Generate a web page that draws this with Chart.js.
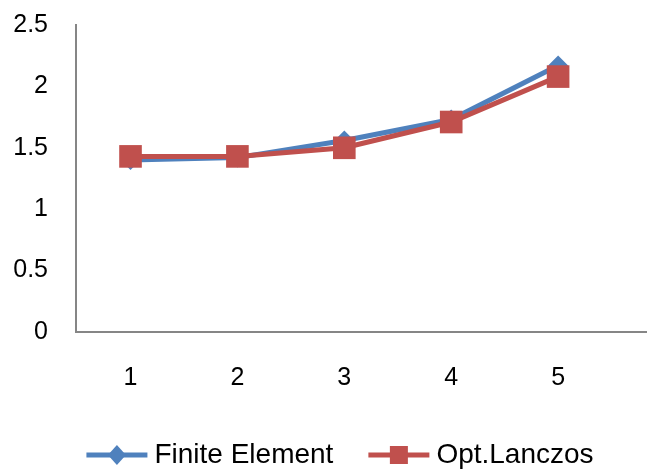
<!DOCTYPE html>
<html>
<head>
<meta charset="utf-8">
<script src="https://cdn.jsdelivr.net/npm/chart.js@4/dist/chart.umd.min.js"></script>
<style>
html,body{margin:0;padding:0;background:#fff;overflow:hidden;}
canvas{display:block;}
</style>
</head>
<body>
<canvas id="grafico" width="681" height="469"></canvas>
<script>

const categorias = [1,2,3,4,5]
const finiteElement = [1.40,1.42,1.56,1.73,2.17]
const optLanczos = [1.43,1.43,1.50,1.71,2.08]
const ticksY = [0,0.5,1,1.5,2,2.5]
const nombres = ["Finite Element","Opt.Lanczos"]

const azul = "#4F81BD"
const rojo = "#C0504D"
const fuente = "Liberation Sans"

/* leyenda abajo: linea + marcador + texto */
function marcador(g, forma, cx, cy){
if(forma == "diamante"){
g.beginPath()
g.moveTo(cx,cy-10)
g.lineTo(cx+9,cy)
g.lineTo(cx,cy+10)
g.lineTo(cx-9,cy)
g.closePath()
g.fill()
}else{
g.fillRect(cx-9,cy-9,18,18)
}
}

const leyenda = {
id:"leyenda",
afterDraw(chart){
const g = chart.ctx
const y = 455
const icono = 61, sep = 7, entre = 35
g.save()
g.font = "28px " + fuente
const formas = ["diamante","cuadrado"]
const anchos = chart.data.datasets.map(ds => icono + sep + g.measureText(ds.label).width)
const total = anchos[0] + entre + anchos[1]
let x = 340 - total/2
chart.data.datasets.forEach((ds,i) => {
g.strokeStyle = ds.borderColor
g.fillStyle = ds.borderColor
g.lineWidth = 5
g.beginPath()
g.moveTo(x,y)
g.lineTo(x+icono,y)
g.stroke()
marcador(g, formas[i], x+icono/2, y)
g.fillStyle = "#000"
g.textBaseline = "middle"
g.textAlign = "left"
g.fillText(ds.label, x+icono+sep, y)
x += anchos[i] + entre
})
g.restore()
}
}

const puntos = serie => categorias.map((c,i) => ({x:c, y:serie[i]}))

new Chart(document.getElementById("grafico"),{
type:"line",
data:{
datasets:[
{
label:nombres[0],
data:puntos(finiteElement),
borderColor:azul,
backgroundColor:azul,
borderWidth:5,
pointStyle:"rectRot",
pointRadius:10,
pointBorderWidth:0,
tension:0,
order:2
},
{
label:nombres[1],
data:puntos(optLanczos),
borderColor:rojo,
backgroundColor:rojo,
borderWidth:5,
pointStyle:"rect",
pointRadius:16,
pointBorderWidth:0,
tension:0,
order:1
}
]
},
options:{
responsive:false,
animation:false,
layout:{padding:{top:25,left:0,right:0,bottom:78}},
plugins:{
tooltip:{enabled:false},
legend:{display:false}
},
scales:{
x:{
type:"linear",
bounds:"data",
min:0.49,
max:6.0,
afterBuildTicks: s => { s.ticks = categorias.map(v => ({value:v})) },
afterFit: s => { s.height = 59; s.paddingLeft = 0; s.paddingRight = 0 },
grid:{display:false,drawTicks:false},
border:{display:true,color:"#868686",width:2},
ticks:{color:"#000",padding:31,font:{family:fuente,size:25},callback: v => String(v)}
},
y:{
min:0,
max:2.5,
afterBuildTicks: s => { s.ticks = ticksY.map(v => ({value:v})) },
afterFit: s => { s.width = 76; s.paddingTop = 0; s.paddingBottom = 0 },
grid:{display:false,drawTicks:false},
border:{display:true,color:"#868686",width:2},
ticks:{color:"#000",padding:28,font:{family:fuente,size:25},callback: v => String(v)}
}
}
},
plugins:[leyenda]
})

</script>
</body>
</html>
